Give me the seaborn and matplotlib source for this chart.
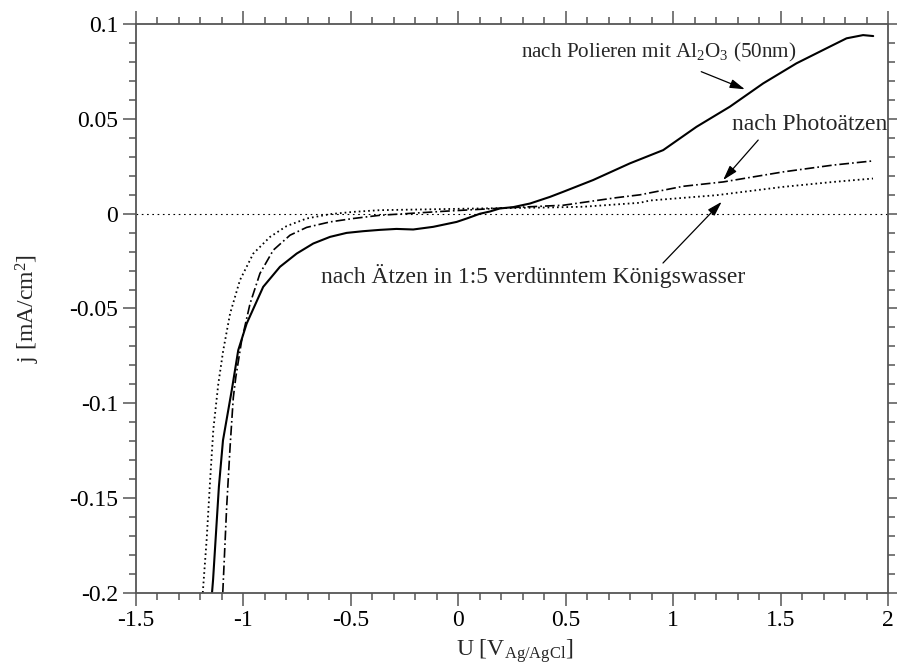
import matplotlib
matplotlib.use("Agg")
import matplotlib.pyplot as plt
import seaborn as sns
import numpy as np
import pandas as pd

# ---------------- data ----------------
polish_u = [-1.145, -1.140, -1.113, -1.094, -1.053, -1.023, -0.984, -0.907, -0.829, -0.751,
            -0.674, -0.596, -0.519, -0.442, -0.364, -0.287, -0.209, -0.116, -0.007, 0.040,
            0.101, 0.148, 0.194, 0.256, 0.334, 0.427, 0.489, 0.628, 0.799, 0.954, 1.109,
            1.264, 1.419, 1.574, 1.729, 1.807, 1.884, 1.931]
polish_j = [-0.200, -0.193, -0.144, -0.1196, -0.093, -0.072, -0.058, -0.0386, -0.028, -0.021,
            -0.0157, -0.0122, -0.0101, -0.0092, -0.0085, -0.0080, -0.0083, -0.0069, -0.0043, -0.0025,
            0.0000, 0.0012, 0.0028, 0.0035, 0.0054, 0.0089, 0.0116, 0.0178, 0.0266, 0.0336, 0.0459,
            0.0565, 0.0688, 0.0794, 0.0882, 0.0926, 0.0943, 0.0938]

photo_u = [-1.095, -1.077, -1.061, -1.046, -1.034, -1.007, -0.968, -0.922, -0.860, -0.782,
           -0.705, -0.596, -0.488, -0.364, -0.053, 0.256, 0.489, 0.737, 0.846, 1.047, 1.233,
           1.512, 1.745, 1.930]
photo_j = [-0.200, -0.155, -0.123, -0.097, -0.086, -0.0668, -0.0474, -0.0315, -0.0192, -0.0113,
           -0.0072, -0.0043, -0.0025, -0.0008, 0.0014, 0.0033, 0.0045, 0.0085, 0.0100, 0.0145, 0.0168,
           0.0221, 0.0257, 0.0279]

aqua_u = [-1.188, -1.170, -1.154, -1.139, -1.116, -1.093, -1.061, -1.015, -0.953, -0.875,
          -0.798, -0.705, -0.596, -0.488, -0.364, 0.101, 0.412, 0.582, 0.846, 0.892, 1.202,
          1.512, 1.745, 1.930]
aqua_j = [-0.200, -0.172, -0.141, -0.114, -0.090, -0.0722, -0.0527, -0.035, -0.021, -0.0122,
          -0.0065, -0.0025, -0.0002, 0.0010, 0.0019, 0.0028, 0.0033, 0.0037, 0.0058, 0.0070, 0.0098,
          0.0142, 0.0168, 0.0186]

x_ticks = [-1.5, -1, -0.5, 0, 0.5, 1, 1.5, 2]
x_tick_labels = ["-1.5", "-1", "-0.5", "0", "0.5", "1", "1.5", "2"]
y_ticks = [0.1, 0.05, 0, -0.05, -0.1, -0.15, -0.2]
y_tick_labels = ["0.1", "0.05", "0", "-0.05", "-0.1", "-0.15", "-0.2"]

label_polish = "nach Polieren mit Al$_2$O$_3$ (50nm)"
label_photo = "nach Photoätzen"
label_aqua = "nach Ätzen in 1:5 verdünntem Königswasser"

# ---------------- style ----------------
sns.set_theme(style="ticks")
plt.rcParams["font.family"] = ["Liberation Serif", "DejaVu Serif"]
plt.rcParams["mathtext.fontset"] = "custom"
plt.rcParams["mathtext.rm"] = "Liberation Serif"
plt.rcParams["mathtext.it"] = "Liberation Serif:italic"
plt.rcParams["mathtext.bf"] = "Liberation Serif:bold"
plt.rcParams["axes.unicode_minus"] = False
plt.rcParams["lines.scale_dashes"] = False

FS = 17
spine_col = "#555555"

fig = plt.figure(figsize=(8.97, 6.64), dpi=100)
ax = fig.add_axes([0.1513, 0.1074, 0.8387, 0.8560])

def draw(u, j, ls, lw):
    df = pd.DataFrame({"U": u, "j": j})
    sns.lineplot(data=df, x="U", y="j", ax=ax, color="black", linewidth=lw,
                 linestyle=ls, sort=False, estimator=None)

ax.axhline(0, color="black", lw=0.8, linestyle=(0, (1.2, 2.6)), zorder=1)
draw(polish_u, polish_j, "-", 1.5)
draw(photo_u, photo_j, (0, (7.0, 2.2, 1.2, 2.2)), 1.2)
draw(aqua_u, aqua_j, (0, (1.2, 2.2)), 1.3)

ax.set_xlim(-1.5, 2)
ax.set_ylim(-0.2, 0.1)
ax.set_xticks(x_ticks)
ax.set_xticklabels(x_tick_labels)
ax.set_yticks(y_ticks)
ax.set_yticklabels(y_tick_labels)
ax.set_xticks(np.arange(-1.5, 2.0001, 0.1), minor=True)
ax.set_yticks(np.arange(-0.2, 0.1001, 0.01), minor=True)

for s in ax.spines.values():
    s.set_visible(True)
    s.set_color(spine_col)
    s.set_linewidth(1.3)

ax.tick_params(which="both", direction="out", top=True, right=True,
               color=spine_col, width=1.1, labelsize=FS, pad=3,
               labelcolor="black")
ax.tick_params(which="major", length=9.5)
ax.tick_params(which="minor", length=5)

ax.set_xlabel("U [V$_{\\mathrm{Ag/AgCl}}$]", fontsize=FS)
ax.set_ylabel("j [mA/cm$^2$]", fontsize=FS)
ax.xaxis.set_label_coords(0.504, -0.078)
ax.yaxis.set_label_coords(-0.125, 0.5)

# annotations
arrow = dict(arrowstyle="-|>,head_length=0.6,head_width=0.18", color="black",
             lw=0.9, mutation_scale=15, shrinkA=0, shrinkB=0)
ax.text(1.575, 0.0827, label_polish, fontsize=15.2, va="baseline", ha="right")
ax.annotate("", xy=(1.334, 0.0657), xytext=(1.131, 0.075), arrowprops=arrow)
ax.text(1.272, 0.0442, label_photo, fontsize=FS, va="baseline", ha="left")
ax.annotate("", xy=(1.233, 0.0178), xytext=(1.396, 0.0389), arrowprops=arrow)
ax.text(-0.640, -0.0367, label_aqua, fontsize=FS, va="baseline", ha="left")
ax.annotate("", xy=(1.226, 0.0063), xytext=(0.953, -0.026), arrowprops=arrow)

fig.savefig("out.png", dpi=100)
